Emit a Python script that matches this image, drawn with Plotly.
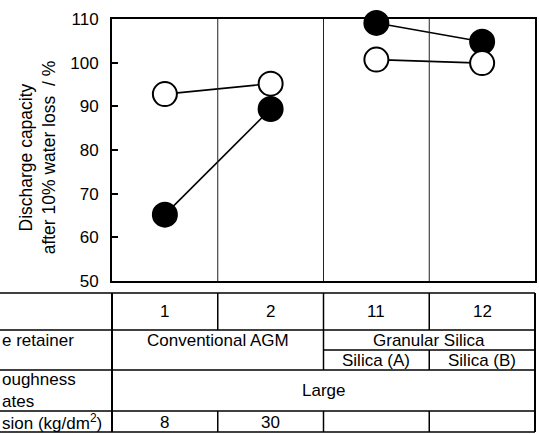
import plotly.graph_objects as go

# Sample numbers (one column each) and discharge capacity after 10 % water loss
samples = ["1", "2", "11", "12"]
capacity_open = [92.8, 95.2, 100.7, 99.9]
capacity_filled = [65.2, 89.4, 109.1, 104.8]

# Table content under the chart (row headers as printed at the left edge)
row_labels = ["e retainer", "oughness<br>ates", "sion (kg/dm<sup>2</sup>)"]
retainer_groups = ["Conventional AGM", "Granular Silica"]
silica_types = ["Silica (A)", "Silica (B)"]
roughness = "Large"
compression = ["8", "30", "", ""]

FONT = "Liberation Sans, Arial, Helvetica, sans-serif"
FS = 17
W, H = 539, 434
L, R, T, B = 112, 2, 19, 153
PW, PH = W - L - R, H - T - B


def px_x(p):
    return (p - L) / PW


def px_y(p):
    return (H - B - p) / PH


def paired(vals):
    # samples 1-2 and 11-12 are joined as separate pairs
    return [vals[0], vals[1], None, vals[2], vals[3]]


xs = [0, 1, None, 2, 3]

fig = go.Figure()
fig.add_trace(go.Scatter(
    x=xs, y=paired(capacity_filled), mode="lines+markers", cliponaxis=False,
    line=dict(color="black", width=1.6),
    marker=dict(size=24, color="black", line=dict(color="black", width=2)),
    showlegend=False))
fig.add_trace(go.Scatter(
    x=xs, y=paired(capacity_open), mode="lines+markers", cliponaxis=False,
    line=dict(color="black", width=1.6),
    marker=dict(size=24, color="white", line=dict(color="black", width=2)),
    showlegend=False))

shapes = []
# column dividers inside the plot
for k in range(1, len(samples)):
    shapes.append(dict(type="line", xref="x", yref="paper", x0=k - 0.5, x1=k - 0.5,
                       y0=0, y1=1, line=dict(color="#222", width=1)))

# table grid
col_px = [L + k * PW / len(samples) for k in range(len(samples) + 1)]
top, r1, r2m, r2, r3, bot = 293, 330, 350, 370, 411, 432


def hline(y, x0, x1, w=1.5):
    shapes.append(dict(type="line", xref="paper", yref="paper", x0=px_x(x0), x1=px_x(x1),
                       y0=px_y(y), y1=px_y(y), line=dict(color="black", width=w)))


def vline(x, y0, y1, w=1.5):
    shapes.append(dict(type="line", xref="paper", yref="paper", x0=px_x(x), x1=px_x(x),
                       y0=px_y(y0), y1=px_y(y1), line=dict(color="black", width=w)))


for y in (top, r1, r2, r3, bot):
    hline(y, -5, col_px[4])
hline(r2m, col_px[2], col_px[4])
vline(col_px[0], top, bot, 2)
vline(col_px[4], top, bot, 2)
vline(col_px[1], top, r1)
vline(col_px[1], r3, bot)
vline(col_px[2], top, r2)
vline(col_px[2], r3, bot)
vline(col_px[3], top, r1)
vline(col_px[3], r2m, r2)
vline(col_px[3], r3, bot)

ann = []


def text(t, x, y, xref="x", xanchor="center", align="center"):
    if not t:
        return
    ann.append(dict(text=t, x=x, y=px_y(y), xref=xref, yref="paper", showarrow=False,
                    xanchor=xanchor, yanchor="middle", align=align,
                    font=dict(family=FONT, size=FS, color="black")))


for i, s in enumerate(samples):
    text(s, i, 311.5)
    text(compression[i], i, 422)
text(retainer_groups[0], 0.5, 340)
text(retainer_groups[1], 2.5, 340)
text(silica_types[0], 2, 360)
text(silica_types[1], 3, 360)
text(roughness, 1.5, 390.5)

label_x = px_x(-1)
text(row_labels[0], label_x, 340, "paper", "left", "left")
text(row_labels[1], label_x, 390.5, "paper", "left", "left")
text(row_labels[2], label_x, 422, "paper", "left", "left")

# y-axis title, two lines
ann.append(dict(text="Discharge capacity<br>after 10% water loss&nbsp; / %",
                x=px_x(37), y=px_y(157), xref="paper", yref="paper", showarrow=False,
                textangle=-90, xanchor="center", yanchor="middle",
                font=dict(family=FONT, size=17.5, color="black")))

fig.update_layout(
    width=W, height=H, margin=dict(l=L, r=R, t=T, b=B, pad=0),
    paper_bgcolor="white", plot_bgcolor="white",
    font=dict(family=FONT, size=FS, color="black"),
    shapes=shapes, annotations=ann,
    xaxis=dict(range=[-0.5, 3.5], showticklabels=False, ticks="", showgrid=False,
               zeroline=False, showline=True, mirror=True, linecolor="black", linewidth=2),
    yaxis=dict(range=[50, 110], dtick=10, ticks="inside", ticklen=6, tickwidth=1.5,
               tickcolor="black", showgrid=False, zeroline=False, showline=True,
               mirror=True, linecolor="black", linewidth=2, ticklabelstandoff=8,
               tickfont=dict(family=FONT, size=FS, color="black")),
)

fig.write_html("out.html")
